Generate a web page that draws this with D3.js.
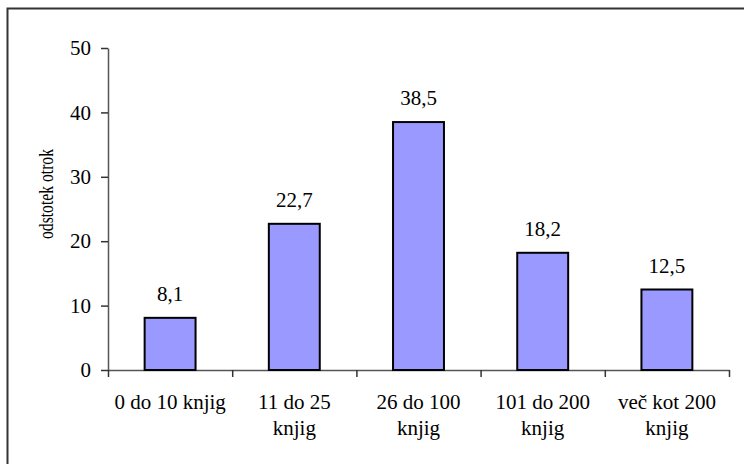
<!DOCTYPE html>
<html><head><meta charset="utf-8">
<script src="https://cdn.jsdelivr.net/npm/d3@7"></script>
<style>body{margin:0;background:#fff}svg{display:block}</style>
</head><body>
<svg id="c" width="744" height="464" font-family="'Liberation Serif', 'Times New Roman', serif"></svg>
<script>
const categories = [["0 do 10 knjig"], ["11 do 25", "knjig"], ["26 do 100", "knjig"], ["101 do 200", "knjig"], ["več kot 200", "knjig"]];
const values = [8.1, 22.7, 38.5, 18.2, 12.5];
const valueLabels = ["8,1", "22,7", "38,5", "18,2", "12,5"];
const yTicks = [0, 10, 20, 30, 40, 50];
const yTitle = "odstotek otrok";

const FONT = "'Liberation Serif', 'Times New Roman', serif";
const svg = d3.select("#c");
// outer border
svg.append("rect").attr("x", 7.5).attr("y", 8.5).attr("width", 740).attr("height", 460)
  .attr("fill", "none").attr("stroke", "#333").attr("stroke-width", 2);

const pLeft = 108, pRight = 729, pTop = 48, pBottom = 370;
const keys = categories.map((c, i) => i);
const x = d3.scaleBand().domain(keys).range([pLeft, pRight]).paddingInner(0.59).paddingOuter(0.295);
const xb = d3.scaleLinear().domain([0, categories.length]).range([pLeft, pRight]);
const y = d3.scaleLinear().domain([0, 50]).range([pBottom, pTop]);

// y axis
const ya = svg.append("g").attr("transform", `translate(${pLeft},0)`)
  .call(d3.axisLeft(y).tickValues(yTicks).tickSize(7).tickPadding(10).tickSizeOuter(0));
ya.attr("font-family", FONT).attr("font-size", 21);
ya.select(".domain").attr("stroke", "#555").attr("stroke-width", 1.5);
ya.selectAll(".tick line").attr("stroke", "#333").attr("stroke-width", 1.5);
ya.selectAll("text").style("font-family", FONT).style("font-size", "21px").attr("fill", "#000");

// x axis
const xa = svg.append("g").attr("transform", `translate(0,${pBottom})`)
  .call(d3.axisBottom(xb).tickValues(d3.range(categories.length + 1)).tickFormat("").tickSize(7).tickSizeOuter(0));
xa.select(".domain").attr("stroke", "#555").attr("stroke-width", 1.5);
xa.selectAll(".tick line").attr("stroke", "#333").attr("stroke-width", 1.5);

// bars
svg.append("g").selectAll("rect").data(values).join("rect")
  .attr("x", (d, i) => x(i)).attr("width", x.bandwidth())
  .attr("y", d => y(d)).attr("height", d => y(0) - y(d))
  .attr("fill", "#9999ff").attr("stroke", "#000").attr("stroke-width", 2);

// value labels
svg.append("g").selectAll("text").data(values).join("text")
  .attr("x", (d, i) => x(i) + x.bandwidth() / 2).attr("y", d => y(d) - 17)
  .attr("text-anchor", "middle").style("font-family", FONT).style("font-size", "21px")
  .text((d, i) => valueLabels[i]);

// category labels
const cl = svg.append("g").selectAll("text").data(categories).join("text")
  .attr("text-anchor", "middle").style("font-family", FONT).style("font-size", "21px")
  .attr("transform", (d, i) => `translate(${x(i) + x.bandwidth() / 2},409)`);
cl.selectAll("tspan").data(d => d).join("tspan")
  .attr("x", 0).attr("y", (d, j) => j * 26).text(d => d);

// y title (compressed along its length as in the reference)
svg.append("text").attr("transform", "translate(53,194) rotate(-90)")
  .attr("text-anchor", "middle").style("font-family", FONT).style("font-size", "20px")
  .attr("textLength", 90).attr("lengthAdjust", "spacingAndGlyphs").text(yTitle);
</script>
</body></html>
